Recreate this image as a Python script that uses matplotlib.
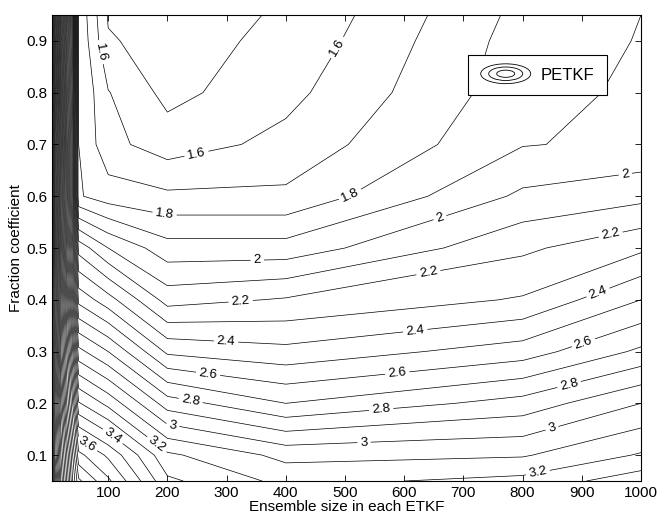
import numpy as np
import matplotlib
matplotlib.use("Agg")
import matplotlib.pyplot as plt
from matplotlib.patches import Ellipse
from matplotlib.legend_handler import HandlerBase

plt.rcParams['font.family'] = ['Liberation Sans', 'DejaVu Sans']

# ensemble sizes (x) and fraction coefficients (y)
ensemble = [5, 10, 20, 30, 40, 50, 100, 200, 400, 800, 1000]
fraction = [0.05, 0.1, 0.2, 0.3, 0.4, 0.5, 0.6, 0.7, 0.8, 0.9, 0.95]

# RMSE values, one list per ensemble size (bottom -> top in fraction)
z5 = [6.0, 5.8, 5.7, 5.6, 5.5, 5.6, 5.5, 5.6, 5.8, 5.9, 6.0]
z10 = [5.6, 5.4, 5.3, 5.2, 5.1, 5.1, 5.0, 5.1, 5.3, 5.4, 5.5]
z20 = [5.0, 4.9, 4.7, 4.5, 4.4, 4.3, 4.2, 4.3, 4.4, 4.5, 4.6]
z30 = [4.6, 4.5, 4.2, 4.0, 3.8, 3.6, 3.5, 3.5, 3.6, 3.7, 3.8]
z40 = [4.2, 4.1, 3.8, 3.5, 3.2, 3.0, 2.8, 2.8, 2.9, 3.0, 3.0]
z50 = [3.92, 3.73, 3.31, 2.93, 2.57, 2.26, 1.81, 1.80, 1.80, 1.79, 1.78]
z100 = [3.72, 3.58, 3.17, 2.80, 2.44, 2.10, 1.75, 1.63, 1.605, 1.51, 1.49]
z200 = [3.32, 3.22, 2.85, 2.48, 2.16, 1.94, 1.72, 1.55, 1.47, 1.46, 1.48]
z400 = [3.17, 3.07, 2.70, 2.43, 2.21, 1.94, 1.72, 1.63, 1.57, 1.525, 1.505]
z800 = [3.23, 3.09, 2.84, 2.55, 2.31, 2.18, 2.02, 1.895, 1.86, 1.845, 1.83]
z1000 = [3.36, 3.21, 3.00, 2.72, 2.50, 2.28, 2.07, 1.92, 1.92, 1.905, 1.90]

colonne = [z5, z10, z20, z30, z40, z50, z100, z200, z400, z800, z1000]
Z = np.array(colonne).T  # righe = fraction, colonne = ensemble

livelli = np.round(np.arange(1.5, 6.05, 0.1), 1)
livelli_etichette = [1.6, 1.8, 2.0, 2.2, 2.4, 2.6, 2.8, 3.0, 3.2, 3.4, 3.6]
livelli_altri = [l for l in livelli if not any(abs(l - e) < 1e-6 for e in livelli_etichette)]

# dove mettere le etichette (in coordinate dati)
pos_etichette = [
    (82, 0.877), (253, 0.66), (480, 0.892),
    (194, 0.558), (510, 0.60),
    (352, 0.465), (659, 0.564), (975, 0.631),
    (324, 0.394), (644, 0.432), (948, 0.531),
    (299, 0.32), (619, 0.336), (929, 0.409),
    (268, 0.251), (589, 0.251), (904, 0.313),
    (239, 0.204), (561, 0.191), (878, 0.239),
    (210, 0.164), (532, 0.131), (851, 0.146),
    (185, 0.125), (826, 0.065),
    (113, 0.144), (65, 0.123),
]


class HandlerAnelli(HandlerBase):
    def create_artists(self, legend, orig_handle, xdescent, ydescent,
                       width, height, fontsize, trans):
        cx = width / 2 - xdescent
        cy = height / 2 - ydescent
        artisti = []
        for k in [1.0, 0.68, 0.36]:
            e = Ellipse((cx, cy), width * k, height * 1.7 * k,
                        fill=False, edgecolor='black', linewidth=0.6,
                        transform=trans)
            artisti.append(e)
        return artisti


fig = plt.figure(figsize=(6.63, 5.19), dpi=100)
ax = fig.add_axes([0.0784, 0.0732, 0.8884, 0.8979])

ax.contour(ensemble, fraction, Z, levels=livelli_altri,
           colors='black', linewidths=0.5)
cs = ax.contour(ensemble, fraction, Z, levels=livelli_etichette,
                colors='black', linewidths=0.5)
ax.clabel(cs, inline=True, fmt='%g', fontsize=9.5,
          manual=pos_etichette, inline_spacing=3)

ax.set_xlim(5, 1000)
ax.set_ylim(0.05, 0.95)
ax.set_xticks(range(100, 1001, 100))
ax.set_yticks(np.round(np.arange(0.1, 0.91, 0.1), 1))
ax.tick_params(direction='in', top=True, right=True, length=4,
               labelsize=11, width=0.6)
for s in ax.spines.values():
    s.set_linewidth(0.8)

ax.set_xlabel("Ensemble size in each ETKF", fontsize=11, labelpad=0)
ax.set_ylabel("Fraction coefficient", fontsize=11, labelpad=2)

maniglia = object()
leg = ax.legend([maniglia], ["PETKF"], handler_map={object: HandlerAnelli()},
                loc='upper right', bbox_to_anchor=(0.942, 0.914),
                borderaxespad=0, fancybox=False, framealpha=1,
                edgecolor='black', fontsize=12, handlelength=3.0,
                handletextpad=0.6, borderpad=0.75)
leg.get_frame().set_linewidth(0.8)

fig.savefig("out.png", dpi=100)
